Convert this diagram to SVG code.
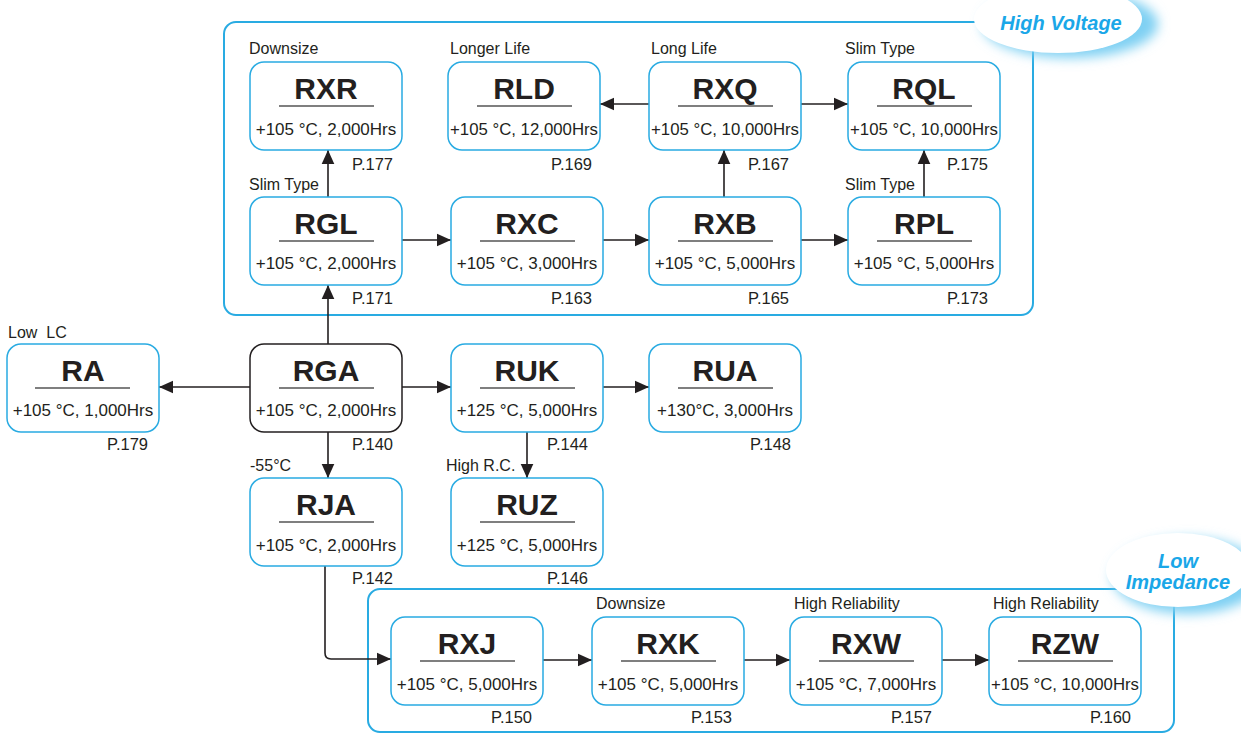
<svg xmlns="http://www.w3.org/2000/svg" width="1241" height="734" viewBox="0 0 1241 734">
<defs>
<style>
.box{fill:#fff;stroke:#29abe2;stroke-width:1.5}
.grp{fill:none;stroke:#29abe2;stroke-width:2}
.t{font-family:"Liberation Sans",Arial,sans-serif;font-weight:bold;font-size:30px;fill:#231f20;text-anchor:middle}
.s{font-family:"Liberation Sans",Arial,sans-serif;font-size:17px;fill:#231f20;text-anchor:middle}
.l{font-family:"Liberation Sans",Arial,sans-serif;font-size:16px;fill:#231f20}
.p{font-family:"Liberation Sans",Arial,sans-serif;font-size:16.5px;fill:#231f20}
.u{stroke:#555;stroke-width:1.5}
.c{fill:none;stroke:#231f20;stroke-width:1.6}
.cl{font-family:"Liberation Sans",Arial,sans-serif;font-weight:bold;font-style:italic;font-size:20px;fill:#1aa7e8;text-anchor:middle}
</style>
<marker id="ah" viewBox="0 0 10 10" refX="10" refY="5" markerWidth="14" markerHeight="14" markerUnits="userSpaceOnUse" orient="auto"><path d="M0,0.5L10,5L0,9.5z" fill="#231f20"/></marker>
<filter id="blur" x="-30%" y="-50%" width="160%" height="200%"><feGaussianBlur stdDeviation="6"/></filter>
</defs>
<rect width="1241" height="734" fill="#fff"/>

<g id="group-high-voltage">
<rect class="grp" x="224" y="22" width="809" height="293" rx="12"/>
</g>
<g id="group-low-impedance">
<rect class="grp" x="368" y="589" width="806" height="143" rx="12"/>
</g>

<g id="cloud-high-voltage">
<ellipse cx="1070" cy="24" rx="88" ry="34" fill="#7fd0f3" filter="url(#blur)"/>
<ellipse cx="1058" cy="19" rx="84" ry="34" fill="#fff"/>
<text class="cl" x="1061" y="30">High Voltage</text>
</g>
<g id="cloud-low-impedance">
<ellipse cx="1188" cy="576" rx="76" ry="38" fill="#7fd0f3" filter="url(#blur)"/>
<ellipse cx="1178" cy="570" rx="72" ry="37" fill="#fff"/>
<text class="cl" x="1178" y="568">Low</text>
<text class="cl" x="1178" y="589">Impedance</text>
</g>

<g id="connectors">
<line class="c" x1="328" y1="197" x2="328" y2="150" marker-end="url(#ah)"/>
<line class="c" x1="328" y1="344" x2="328" y2="285" marker-end="url(#ah)"/>
<line class="c" x1="402" y1="240" x2="451" y2="240" marker-end="url(#ah)"/>
<line class="c" x1="603" y1="240" x2="649" y2="240" marker-end="url(#ah)"/>
<line class="c" x1="801" y1="240" x2="848" y2="240" marker-end="url(#ah)"/>
<line class="c" x1="724" y1="197" x2="724" y2="150" marker-end="url(#ah)"/>
<line class="c" x1="924" y1="197" x2="924" y2="150" marker-end="url(#ah)"/>
<line class="c" x1="649" y1="104" x2="600" y2="104" marker-end="url(#ah)"/>
<line class="c" x1="801" y1="104" x2="848" y2="104" marker-end="url(#ah)"/>
<line class="c" x1="250" y1="387" x2="159" y2="387" marker-end="url(#ah)"/>
<line class="c" x1="402" y1="387" x2="451" y2="387" marker-end="url(#ah)"/>
<line class="c" x1="603" y1="387" x2="649" y2="387" marker-end="url(#ah)"/>
<line class="c" x1="527" y1="432" x2="527" y2="478" marker-end="url(#ah)"/>
<line class="c" x1="328" y1="432" x2="328" y2="478" marker-end="url(#ah)"/>
<path class="c" d="M325,566 V653 Q325,659 331,659 H391" marker-end="url(#ah)"/>
<line class="c" x1="543" y1="660" x2="592" y2="660" marker-end="url(#ah)"/>
<line class="c" x1="744" y1="660" x2="790" y2="660" marker-end="url(#ah)"/>
<line class="c" x1="942" y1="660" x2="989" y2="660" marker-end="url(#ah)"/>
</g>

<g id="node-RXR">
<text class="l" x="249" y="54">Downsize</text>
<rect class="box" x="250" y="62" width="152" height="88" rx="14"/>
<text class="t" x="326" y="99">RXR</text>
<line class="u" x1="279" y1="106" x2="374" y2="106"/>
<text class="s" x="326" y="135">+105 °C, 2,000Hrs</text>
<text class="p" x="352" y="170">P.177</text>
</g>
<g id="node-RLD">
<text class="l" x="450" y="54">Longer Life</text>
<rect class="box" x="448" y="62" width="152" height="88" rx="14"/>
<text class="t" x="524" y="99">RLD</text>
<line class="u" x1="477" y1="106" x2="572" y2="106"/>
<text class="s" x="524" y="135" textLength="148" lengthAdjust="spacingAndGlyphs">+105 °C, 12,000Hrs</text>
<text class="p" x="551" y="170">P.169</text>
</g>
<g id="node-RXQ">
<text class="l" x="651" y="54">Long Life</text>
<rect class="box" x="649" y="62" width="152" height="88" rx="14"/>
<text class="t" x="725" y="99">RXQ</text>
<line class="u" x1="678" y1="106" x2="773" y2="106"/>
<text class="s" x="725" y="135" textLength="148" lengthAdjust="spacingAndGlyphs">+105 °C, 10,000Hrs</text>
<text class="p" x="748" y="170">P.167</text>
</g>
<g id="node-RQL">
<text class="l" x="845" y="54">Slim Type</text>
<rect class="box" x="848" y="62" width="152" height="88" rx="14"/>
<text class="t" x="924" y="99">RQL</text>
<line class="u" x1="877" y1="106" x2="972" y2="106"/>
<text class="s" x="924" y="135" textLength="148" lengthAdjust="spacingAndGlyphs">+105 °C, 10,000Hrs</text>
<text class="p" x="947" y="170">P.175</text>
</g>

<g id="node-RGL">
<text class="l" x="249" y="190">Slim Type</text>
<rect class="box" x="250" y="197" width="152" height="88" rx="14"/>
<text class="t" x="326" y="234">RGL</text>
<line class="u" x1="279" y1="241" x2="374" y2="241"/>
<text class="s" x="326" y="269">+105 °C, 2,000Hrs</text>
<text class="p" x="352" y="304">P.171</text>
</g>
<g id="node-RXC">
<rect class="box" x="451" y="197" width="152" height="88" rx="14"/>
<text class="t" x="527" y="234">RXC</text>
<line class="u" x1="480" y1="241" x2="575" y2="241"/>
<text class="s" x="527" y="269">+105 °C, 3,000Hrs</text>
<text class="p" x="551" y="304">P.163</text>
</g>
<g id="node-RXB">
<rect class="box" x="649" y="197" width="152" height="88" rx="14"/>
<text class="t" x="725" y="234">RXB</text>
<line class="u" x1="678" y1="241" x2="773" y2="241"/>
<text class="s" x="725" y="269">+105 °C, 5,000Hrs</text>
<text class="p" x="748" y="304">P.165</text>
</g>
<g id="node-RPL">
<text class="l" x="845" y="190">Slim Type</text>
<rect class="box" x="848" y="197" width="152" height="88" rx="14"/>
<text class="t" x="924" y="234">RPL</text>
<line class="u" x1="877" y1="241" x2="972" y2="241"/>
<text class="s" x="924" y="269">+105 °C, 5,000Hrs</text>
<text class="p" x="947" y="304">P.173</text>
</g>

<g id="node-RA">
<text class="l" x="8" y="338">Low&#160; LC</text>
<rect class="box" x="7" y="344" width="152" height="88" rx="14"/>
<text class="t" x="83" y="381">RA</text>
<line class="u" x1="35" y1="388" x2="130" y2="388"/>
<text class="s" x="83" y="416">+105 °C, 1,000Hrs</text>
<text class="p" x="107" y="450">P.179</text>
</g>
<g id="node-RGA">
<rect x="250" y="344" width="152" height="88" rx="14" fill="#fff" stroke="#231f20" stroke-width="1.5"/>
<text class="t" x="326" y="381">RGA</text>
<line class="u" x1="279" y1="388" x2="374" y2="388"/>
<text class="s" x="326" y="416">+105 °C, 2,000Hrs</text>
<text class="p" x="352" y="450">P.140</text>
</g>
<g id="node-RUK">
<rect class="box" x="451" y="344" width="152" height="88" rx="14"/>
<text class="t" x="527" y="381">RUK</text>
<line class="u" x1="480" y1="388" x2="575" y2="388"/>
<text class="s" x="527" y="416">+125 °C, 5,000Hrs</text>
<text class="p" x="547" y="450">P.144</text>
</g>
<g id="node-RUA">
<rect class="box" x="649" y="344" width="152" height="88" rx="14"/>
<text class="t" x="725" y="381">RUA</text>
<line class="u" x1="678" y1="388" x2="773" y2="388"/>
<text class="s" x="725" y="416">+130°C, 3,000Hrs</text>
<text class="p" x="750" y="450">P.148</text>
</g>

<g id="node-RJA">
<text class="l" x="250" y="471">-55°C</text>
<rect class="box" x="250" y="478" width="152" height="88" rx="14"/>
<text class="t" x="326" y="515">RJA</text>
<line class="u" x1="279" y1="522" x2="374" y2="522"/>
<text class="s" x="326" y="551">+105 °C, 2,000Hrs</text>
<text class="p" x="352" y="584">P.142</text>
</g>
<g id="node-RUZ">
<text class="l" x="446" y="471">High R.C.</text>
<rect class="box" x="451" y="478" width="152" height="88" rx="14"/>
<text class="t" x="527" y="515">RUZ</text>
<line class="u" x1="480" y1="522" x2="575" y2="522"/>
<text class="s" x="527" y="551">+125 °C, 5,000Hrs</text>
<text class="p" x="547" y="584">P.146</text>
</g>

<g id="node-RXJ">
<rect class="box" x="391" y="617" width="152" height="88" rx="14"/>
<text class="t" x="467" y="654">RXJ</text>
<line class="u" x1="420" y1="661" x2="515" y2="661"/>
<text class="s" x="467" y="690">+105 °C, 5,000Hrs</text>
<text class="p" x="491" y="723">P.150</text>
</g>
<g id="node-RXK">
<text class="l" x="596" y="609">Downsize</text>
<rect class="box" x="592" y="617" width="152" height="88" rx="14"/>
<text class="t" x="668" y="654">RXK</text>
<line class="u" x1="621" y1="661" x2="716" y2="661"/>
<text class="s" x="668" y="690">+105 °C, 5,000Hrs</text>
<text class="p" x="691" y="723">P.153</text>
</g>
<g id="node-RXW">
<text class="l" x="794" y="609">High Reliability</text>
<rect class="box" x="790" y="617" width="152" height="88" rx="14"/>
<text class="t" x="866" y="654">RXW</text>
<line class="u" x1="819" y1="661" x2="914" y2="661"/>
<text class="s" x="866" y="690">+105 °C, 7,000Hrs</text>
<text class="p" x="891" y="723">P.157</text>
</g>
<g id="node-RZW">
<text class="l" x="993" y="609">High Reliability</text>
<rect class="box" x="989" y="617" width="152" height="88" rx="14"/>
<text class="t" x="1065" y="654">RZW</text>
<line class="u" x1="1018" y1="661" x2="1113" y2="661"/>
<text class="s" x="1065" y="690" textLength="148" lengthAdjust="spacingAndGlyphs">+105 °C, 10,000Hrs</text>
<text class="p" x="1090" y="723">P.160</text>
</g>
</svg>
